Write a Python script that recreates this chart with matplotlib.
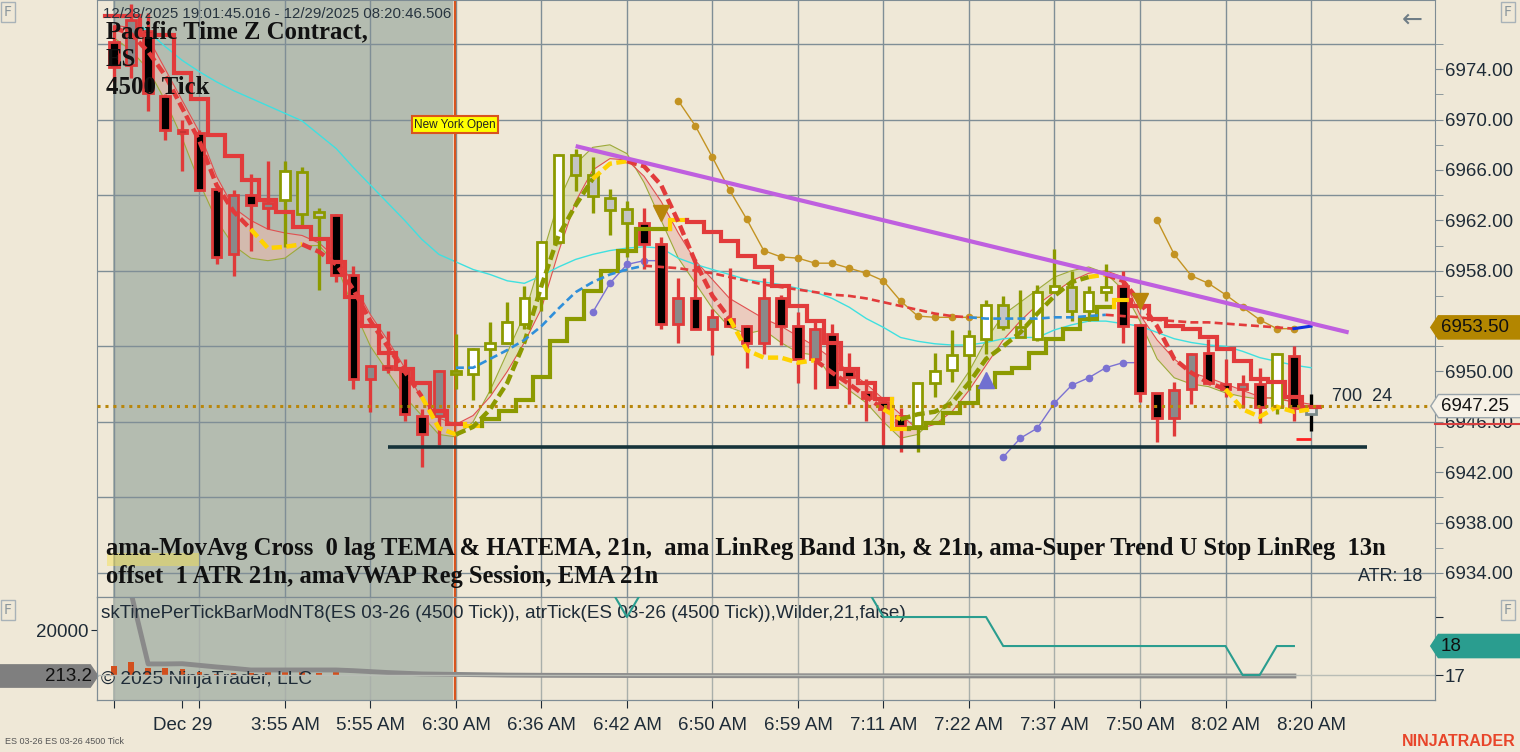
import numpy as np
import matplotlib
matplotlib.use('Agg')
import matplotlib.pyplot as plt
from matplotlib.transforms import blended_transform_factory
from matplotlib.patches import Rectangle, Polygon

# ---------------- data (4500 tick bars, ES 03-26) ----------------
opens = [6976.2, 6974.3, 6977.0, 6971.9, 6969.2, 6968.9, 6964.5, 6959.3, 6964.0, 6963.0,
         6963.6, 6965.85, 6962.7, 6962.4, 6957.7, 6949.4, 6950.4, 6950.0, 6946.5, 6946.5,
         6950.0, 6949.8, 6951.8, 6952.3, 6953.8, 6955.8, 6960.3, 6967.2, 6965.6, 6963.8,
         6962.9, 6961.8, 6960.1, 6953.8, 6955.8, 6953.4, 6954.2, 6953.6, 6952.3, 6955.8,
         6953.6, 6951.0, 6953.0, 6950.0, 6948.4, 6947.6, 6946.5, 6945.7, 6949.1, 6950.1,
         6951.3, 6952.6, 6955.3, 6953.5, 6952.6, 6956.3, 6956.7, 6954.8, 6956.3, 6956.8,
         6953.7, 6948.3, 6946.3, 6948.6, 6951.5, 6949.0, 6948.6, 6949.0, 6947.2, 6951.2,
         6946.6]
highs = [6977.5, 6979.2, 6978.5, 6972.0, 6970.0, 6969.2, 6964.5, 6964.4, 6965.7, 6966.7,
         6966.7, 6966.2, 6963.0, 6962.5, 6958.4, 6950.5, 6953.2, 6951.0, 6947.0, 6950.1,
         6953.0, 6951.9, 6953.9, 6955.5, 6956.8, 6960.4, 6967.3, 6967.7, 6967.0, 6964.5,
         6963.5, 6963.0, 6960.7, 6957.4, 6958.9, 6955.0, 6958.2, 6953.7, 6957.4, 6956.1,
         6954.7, 6954.2, 6953.8, 6951.5, 6949.4, 6948.0, 6947.1, 6949.2, 6951.5, 6953.3,
         6953.3, 6955.7, 6956.0, 6956.5, 6956.9, 6959.7, 6958.0, 6956.8, 6958.5, 6958.0,
         6953.8, 6948.3, 6949.2, 6951.5, 6952.6, 6951.0, 6949.7, 6950.3, 6951.5, 6952.0,
         6948.2]
lows = [6973.0, 6973.3, 6970.7, 6968.4, 6965.9, 6964.3, 6958.5, 6957.6, 6959.6, 6961.3,
        6959.9, 6961.6, 6956.5, 6957.1, 6948.6, 6946.8, 6949.9, 6946.1, 6942.4, 6944.2,
        6948.6, 6947.7, 6948.3, 6952.2, 6953.4, 6954.8, 6960.1, 6964.3, 6962.6, 6960.8,
        6959.1, 6958.1, 6953.4, 6952.3, 6953.4, 6951.3, 6953.6, 6950.3, 6951.4, 6952.1,
        6949.1, 6948.6, 6948.8, 6947.4, 6946.1, 6944.1, 6943.6, 6943.6, 6948.0, 6949.2,
        6948.5, 6951.4, 6953.3, 6952.7, 6952.4, 6956.3, 6954.0, 6954.0, 6955.6, 6952.3,
        6947.6, 6944.4, 6944.9, 6947.4, 6949.1, 6948.0, 6947.1, 6945.9, 6946.6, 6946.1,
        6945.3]
closes = [6974.2, 6977.9, 6972.1, 6969.2, 6968.9, 6964.4, 6959.1, 6964.0, 6963.2, 6963.4,
          6965.9, 6962.5, 6962.3, 6957.7, 6949.4, 6950.4, 6950.2, 6946.6, 6945.0, 6950.0,
          6949.8, 6951.8, 6952.3, 6953.9, 6955.8, 6960.3, 6967.2, 6965.6, 6963.9, 6962.8,
          6961.8, 6960.1, 6953.8, 6955.8, 6953.4, 6954.3, 6953.6, 6952.3, 6955.8, 6953.6,
          6951.0, 6953.4, 6948.8, 6949.6, 6947.9, 6947.0, 6945.7, 6949.1, 6950.0, 6951.3,
          6952.8, 6955.3, 6953.5, 6952.7, 6956.3, 6956.8, 6954.8, 6956.3, 6956.7, 6953.6,
          6948.3, 6946.3, 6948.5, 6951.4, 6949.1, 6948.6, 6949.0, 6947.2, 6951.4, 6947.1,
          6947.25]


def expand(pairs):
    return [c for c, k in pairs for _ in range(k)]


# bar colouring by trend: r = down trend, g = up trend, n = live bar
bar_trend = expand([('r', 10), ('g', 3), ('r', 7), ('g', 11), ('r', 16), ('g', 12),
                    ('r', 9), ('g', 1), ('r', 1), ('n', 1)])

# ama-Super Trend U stop (stepped) and its state colour
stop = [6978.2, 6978.2, 6976.7, 6976.7, 6973.7, 6971.6, 6968.8, 6967.1, 6965.2, 6963.6,
        6962.7, 6961.5, 6960.5, 6958.7, 6955.9, 6953.6, 6951.5, 6950.2, 6949.1, 6946.9,
        6945.8, 6945.7, 6946.2, 6946.9, 6947.7, 6949.6, 6952.4, 6954.2, 6956.4, 6958.0,
        6959.6, 6961.3, 6961.3, 6962.0, 6961.9, 6961.1, 6960.4, 6959.2, 6958.3, 6956.8,
        6955.2, 6954.0, 6952.3, 6950.2, 6949.1, 6947.8, 6945.4, 6945.55, 6945.9, 6946.7,
        6947.5, 6948.8, 6949.9, 6950.3, 6951.5, 6952.6, 6953.4, 6954.2, 6955.1, 6955.7,
        6955.2, 6954.2, 6953.6, 6953.4, 6952.7, 6951.8, 6950.8, 6949.4, 6949.2, 6948.0,
        6947.2]
stop_state = expand([('r', 21), ('y', 1), ('g', 11), ('y', 1), ('r', 12), ('y', 1),
                     ('g', 12), ('y', 1), ('r', 11)])

# 0 lag TEMA (dashed, coloured by slope)
tema = [6977.3, 6976.8, 6975.4, 6973.5, 6970.9, 6968.3, 6964.8, 6962.7, 6961.3, 6959.8,
        6959.9, 6960.1, 6959.5, 6958.5, 6956.5, 6954.0, 6952.0, 6950.0, 6948.0, 6945.5,
        6945.0, 6945.6, 6947.0, 6949.1, 6952.3, 6956.8, 6960.8, 6963.2, 6965.3, 6966.5,
        6966.7, 6966.3, 6964.8, 6961.9, 6958.7, 6956.0, 6954.2, 6951.7, 6951.1, 6951.1,
        6950.7, 6950.9, 6949.9, 6949.0, 6948.0, 6947.0, 6946.2, 6946.6, 6946.8, 6947.5,
        6949.1, 6951.0, 6952.0, 6953.1, 6954.6, 6956.0, 6957.1, 6957.5, 6957.7, 6957.2,
        6955.5, 6953.6, 6951.0, 6949.9, 6949.1, 6948.6, 6947.0, 6946.4, 6947.2, 6946.8,
        6947.0]
tema_state = expand([('r', 9), ('y', 3), ('r', 7), ('y', 2), ('g', 8), ('y', 2), ('r', 6),
                     ('y', 5), ('r', 4), ('y', 1), ('g', 11), ('y', 1), ('r', 7), ('y', 5)])

# LinReg band edges (13n fast / 21n slow)
band_fast = [6976.5, 6975.5, 6974.0, 6971.5, 6968.5, 6965.0, 6962.0, 6960.0, 6959.0, 6958.8,
             6959.0, 6960.0, 6960.0, 6958.5, 6955.0, 6952.0, 6950.0, 6948.0, 6946.5, 6945.0,
             6944.8, 6946.0, 6948.5, 6951.5, 6954.5, 6959.0, 6963.5, 6966.5, 6967.8, 6968.0,
             6967.3, 6965.0, 6962.0, 6959.0, 6957.0, 6955.0, 6953.5, 6953.0, 6953.3, 6952.3,
             6951.5, 6951.3, 6949.5, 6948.5, 6947.5, 6946.0, 6944.7, 6945.0, 6946.3, 6948.0,
             6950.0, 6952.5, 6954.5, 6955.5, 6956.5, 6957.5, 6958.0, 6958.3, 6957.8, 6956.5,
             6954.0, 6951.0, 6949.5, 6949.0, 6948.8, 6948.3, 6948.0, 6947.8, 6948.0, 6947.5,
             6947.0]
band_slow = [6977.5, 6977.3, 6976.5, 6974.0, 6971.5, 6969.0, 6965.5, 6963.0, 6962.0, 6961.3,
             6961.0, 6960.8, 6960.2, 6959.0, 6957.0, 6954.5, 6952.5, 6950.3, 6947.8, 6946.3,
             6945.8, 6946.5, 6948.0, 6950.0, 6952.3, 6955.0, 6959.5, 6963.5, 6966.0, 6966.9,
             6966.8, 6965.5, 6963.5, 6961.0, 6958.8, 6957.3, 6955.8, 6955.0, 6954.2, 6953.6,
             6952.8, 6952.0, 6951.0, 6950.0, 6949.0, 6947.8, 6946.6, 6945.4, 6945.8, 6946.8,
             6948.5, 6950.5, 6952.5, 6954.0, 6955.3, 6956.3, 6957.2, 6957.8, 6958.0, 6957.5,
             6954.5, 6952.5, 6951.0, 6949.9, 6949.5, 6949.0, 6948.5, 6948.0, 6947.8, 6947.6,
             6947.4]

# EMA 21n (cyan)
ema21 = [np.nan, 6978.0, 6977.0, 6975.8, 6974.7, 6973.8, 6973.0, 6972.3, 6971.7, 6971.1,
         6970.5, 6969.9, 6968.8, 6967.7, 6966.2, 6964.8, 6963.4, 6962.0, 6960.5, 6959.3,
         6958.7, 6958.1, 6957.7, 6957.2, 6957.0, 6957.6, 6958.3, 6958.9, 6959.3, 6959.6,
         6959.8, 6959.9, 6959.8, 6959.0, 6958.5, 6958.1, 6957.7, 6957.3, 6957.1, 6956.9,
         6956.6, 6956.3, 6955.8, 6955.1, 6954.2, 6953.5, 6952.7, 6952.4, 6952.2, 6952.1,
         6952.1, 6952.3, 6952.6, 6952.7, 6952.7, 6953.3, 6953.7, 6954.0, 6954.0, 6953.8,
         6953.6, 6953.1, 6952.6, 6952.3, 6952.1, 6952.0, 6951.6, 6951.1, 6950.8, 6950.5,
         6950.3]

# amaVWAP regular session (starts at the New York open)
vwap_start = 20
vwap = [6950.3, 6950.3, 6951.0, 6951.7, 6952.5, 6953.6, 6955.0, 6956.3, 6957.1, 6957.7,
        6958.1, 6958.4, 6958.3, 6958.2, 6958.0, 6957.8, 6957.5, 6957.2, 6956.9, 6956.7,
        6956.5, 6956.3, 6956.1, 6956.0, 6955.8, 6955.5, 6955.2, 6954.9, 6954.6, 6954.4,
        6954.3, 6954.2, 6954.2, 6954.2, 6954.2, 6954.3, 6954.3, 6954.4, 6954.5, 6954.4,
        6954.3, 6954.1, 6954.0, 6953.9, 6953.9, 6953.8, 6953.7, 6953.6, 6953.5, 6953.4,
        6953.6]
vwap_state = expand([('r', 1), ('b', 11), ('r', 19), ('b', 8), ('r', 11), ('b', 1)])

# trailing dots (gold) and (slate blue)
gold_a_start, gold_a = 33, [6971.5, 6969.5, 6967.0, 6964.4, 6962.1, 6959.6, 6959.1, 6959.0,
                            6958.6, 6958.6, 6958.2, 6957.8, 6957.2, 6955.6, 6954.4, 6954.3,
                            6954.3, 6954.3, 6954.3]
gold_b_start, gold_b = 61, [6962.0, 6959.3, 6957.6, 6957.0, 6956.1, 6955.1, 6954.1, 6953.4, 6953.4]
blue_a_start, blue_a = 28, [6954.7, 6957.0, 6958.5, 6958.8, 6958.8]
blue_b_start, blue_b = 52, [6943.2, 6944.7, 6945.5, 6947.5, 6948.9, 6949.5, 6950.3, 6950.7, 6950.7]

# signal triangles
tri_down_x, tri_down_y = [32, 60], [6962.6, 6955.6]
tri_up_x, tri_up_y = [51], [6949.3]

# manual drawings
trend_x, trend_y = [27.0, 72.2], [6967.9, 6953.1]
support_x, support_y = [16.0, 73.3], 6944.0
last_price = 6947.25
stop_price = 6953.50
ny_open_bar = 19.95

# lower panel: time per tick (left scale), histogram, ATR tick (right scale)
time_per_tick = [90000, 36000, 5400, 5400, 5500, 4800, 4100, 3500, 2800, 2800,
                 2800, 2800, 2800, 2800, 2500, 2100, 1700, 1400, 1100, 1000,
                 900, 800, 700, 600, 560, 520, 500, 480, 460, 440,
                 420, 400, 390, 380, 370, 360, 350, 340, 330, 320,
                 310, 300, 295, 290, 285, 280, 275, 270, 265, 260,
                 255, 250, 245, 240, 238, 236, 234, 232, 230, 228,
                 226, 224, 222, 220, 219, 218, 217, 216, 215, 213.2]
tpt_hist = [4300, 6000, 3600, 3300, 2900, 1700, 700, 1200, 1400, 2900,
            2900, 1700, 1200, 1700, 400, 300, 300]
atr = [20, 20, 20, 20, 20, 20, 20, 20, 20, 20, 20, 20, 20, 20, 20, 20, 20, 20, 20, 20,
       20, 20, 20, 20, 20, 20, 20, 20, 20, 20, 19, 20, 20, 20, 20, 20, 20, 20, 20, 20,
       20, 20, 20, 20, 20, 19, 19, 19, 19, 19, 19, 19, 18, 18, 18, 18, 18, 18, 18, 18,
       18, 18, 18, 18, 18, 18, 17, 17, 18, 18]
atr_last = 18
tpt_last = 213.2

tick_bars = [0, 4, 5, 10, 15, 20, 25, 30, 35, 40, 45, 50, 55, 60, 65, 70]
tick_labels = ['', 'Dec 29', '', '3:55 AM', '5:55 AM', '6:30 AM', '6:36 AM', '6:42 AM',
               '6:50 AM', '6:59 AM', '7:11 AM', '7:22 AM', '7:37 AM', '7:50 AM',
               '8:02 AM', '8:20 AM']
grid_bars = list(range(0, 71, 5))

# ---------------- styling ----------------
BG = '#EFE8D7'
SHADE = '#B4BCB0'
GRID = '#7F8E96'
TXT = '#1E2B37'
RED = '#E23B3B'
OLIVE = '#8C9A00'
YEL = '#FFD200'
BLUE = '#2F8FDA'
SANS = ['Liberation Sans', 'DejaVu Sans']
SERIF = ['Liberation Serif', 'DejaVu Serif']
state_col = {'r': RED, 'g': OLIVE, 'y': YEL, 'b': BLUE}

W, H = 1520, 752
fig = plt.figure(figsize=(W / 100, H / 100), dpi=100)
fig.patch.set_facecolor(BG)


def fx(px):
    return px / W


def fy(py):
    return 1 - py / H


ax = fig.add_axes([fx(97), fy(597), fx(1435) - fx(97), fy(0) - fy(597)])
ax2 = fig.add_axes([fx(97), fy(700), fx(1435) - fx(97), fy(597) - fy(700)], sharex=ax)
ax2r = ax2.twinx()
for a in (ax, ax2):
    a.set_facecolor(BG)
    for s in a.spines.values():
        s.set_color('#7E8C94')
ax2r.patch.set_visible(False)
for s in ax2r.spines.values():
    s.set_color('#7E8C94')

n = len(closes)
bars = np.arange(n)
ax.set_xlim(-0.99, 77.25)
ax.set_ylim(6932.09, 6979.5)

# session shading + grid
for a in (ax, ax2):
    a.axvspan(-0.05, 19.85, color=SHADE, zorder=0, lw=0)
for g in grid_bars:
    ax.axvline(g, color=GRID, lw=1, zorder=0.5)
    ax2.axvline(g, color='#A9AFAA', lw=1, zorder=0.5)
for p in np.arange(6934, 6980, 6):
    ax.axhline(p, color=GRID, lw=1, zorder=0.5)

ax.axvline(ny_open_bar, color='#D9541E', lw=1.6, zorder=2)
ax2.axvline(ny_open_bar, color='#D9541E', lw=1.6, zorder=2)
ax.text(ny_open_bar, 6969.6, 'New York Open', ha='center', va='center', fontsize=8.5,
        family=SANS, color='#222222', zorder=8,
        bbox=dict(boxstyle='square,pad=0.2', fc='#FFFF00', ec='#D9541E', lw=1.5))


def color_runs(states):
    runs, start = [], 0
    for k in range(1, len(states) + 1):
        if k == len(states) or states[k] != states[start]:
            runs.append((states[start], start, k - 1))
            start = k
    return runs


# LinReg band
bf, bs = np.array(band_fast), np.array(band_slow)
ax.fill_between(bars, bf, bs, where=bf >= bs, interpolate=True, color='#DCDDB0', alpha=0.75, lw=0, zorder=1)
ax.fill_between(bars, bf, bs, where=bf < bs, interpolate=True, color='#E9B9AE', alpha=0.6, lw=0, zorder=1)
ax.plot(bars, bf, color='#9DAA3A', lw=0.8, zorder=1.5)
ax.plot(bars, bs, color='#E05050', lw=0.8, zorder=1.5)

# EMA 21
ax.plot(bars, ema21, color='#3FE0E0', lw=1.0, zorder=1.6)

# trailing dotted indicators
for start, vals, col in [(gold_a_start, gold_a, '#C39322'), (gold_b_start, gold_b, '#C39322'),
                         (blue_a_start, blue_a, '#7B72D2'), (blue_b_start, blue_b, '#7B72D2')]:
    xs = np.arange(start, start + len(vals))
    ax.plot(xs, vals, color=col, lw=1.0, marker='o', ms=4.5, zorder=2)

# candles
ob, hb, lb, cb = map(np.array, (opens, highs, lows, closes))
outline = {'r': '#E03A3A', 'g': '#8C9A00', 'n': '#7A8A8A'}
for i in range(n):
    t = bar_trend[i]
    up = cb[i] >= ob[i]
    if t == 'n':
        fill, wick = '#E6E6E6', '#000000'
    elif t == 'g':
        fill, wick = ('#FFFFFF' if up else '#C4C4C4'), outline[t]
    else:
        fill, wick = ('#8A8A8A' if up else '#000000'), outline[t]
    ax.vlines(i, lb[i], hb[i], color=wick, lw=2.4, zorder=3)
    body = max(abs(cb[i] - ob[i]), 0.18)
    ax.bar(i, body, bottom=min(ob[i], cb[i]), width=0.56, color=fill,
           edgecolor=outline[t], linewidth=2.0, zorder=3.2)

# super trend stop (stepped)
stop_a = np.array(stop)
for st, a0, b0 in color_runs(stop_state):
    xs, ys = [], []
    if a0 > 0:
        xs.append(a0 - 0.5)
        ys.append(stop_a[a0 - 1])
    for k in range(a0, b0 + 1):
        xs += [k - 0.5, k + 0.5]
        ys += [stop_a[k], stop_a[k]]
    ax.plot(xs, ys, color=state_col[st], lw=3.0, zorder=4, solid_joinstyle='miter')

# TEMA dashed
tema_a = np.array(tema)
for st, a0, b0 in color_runs(tema_state):
    idx = np.arange(max(a0 - 1, 0), b0 + 1)
    ax.plot(idx, tema_a[idx], color=state_col[st], lw=3.2, dashes=(2.3, 1.0), zorder=5)

# VWAP
vw = np.array(vwap)
vx = np.arange(vwap_start, vwap_start + len(vw))
for st, a0, b0 in color_runs(vwap_state):
    idx = np.arange(max(a0 - 1, 0), b0 + 1)
    if st == 'b' and a0 == len(vw) - 1:
        ax.plot(vx[idx], vw[idx], color='#1030E0', lw=2.2, zorder=5)
    else:
        ax.plot(vx[idx], vw[idx], color=state_col[st], lw=1.9, dashes=(3.0, 1.6), zorder=5)

# signals and drawings
ax.plot(tri_down_x, tri_down_y, 'v', color='#B8860B', ms=12, zorder=6)
ax.plot(tri_up_x, tri_up_y, '^', color='#7070D0', ms=12, zorder=6)
ax.plot(trend_x, trend_y, color='#BF5FDF', lw=3.0, zorder=6, solid_capstyle='butt')
ax.hlines(support_y, support_x[0], support_x[1], color='#16333A', lw=2.6, zorder=6)
ax.axhline(last_price, color='#B8860B', lw=2.2, ls=(0, (1, 1.6)), zorder=6)
ax.hlines(6944.6, 69.1, 70.0, color='#FF2020', lw=2, zorder=6)

ax.text(71.2, 6948.0, '700  24', fontsize=13, family=SANS, color=TXT, va='center', ha='left', zorder=8)
ax.text(76.5, 6933.7, 'ATR: 18', fontsize=13, family=SANS, color=TXT, va='center', ha='right', zorder=8)

# main y axis (right); the 6954 label sits under the stop marker, so it stays blank
price_ticks = np.arange(6934, 6975, 4)
ax.yaxis.tick_right()
ax.set_yticks(price_ticks)
ax.set_yticklabels(['' if abs(v - stop_price) < 1.5 else f'{v:.2f}' for v in price_ticks], family=SANS)
ax.set_yticks(np.arange(6936, 6979, 4), minor=True)
ax.tick_params(axis='y', which='major', length=6, pad=1, labelsize=13.5, colors=TXT)
ax.tick_params(axis='y', which='minor', length=6, color='#7E8C94')
ax.tick_params(axis='y', which='major', color='#7E8C94')
ax.tick_params(axis='x', bottom=False, labelbottom=False)


def badge(axis, y, text, fc, ec, half, side='right', tc='#111111'):
    """price marker box on an axis edge; half = half height in data units"""
    tr = blended_transform_factory(axis.transAxes, axis.transData)
    if side == 'right':
        pts = [(0.9968, y), (1.0025, y + half), (1.07, y + half), (1.07, y - half), (1.0025, y - half)]
        tx, ha = 1.0045, 'left'
    else:
        pts = [(0.0007, y), (-0.005, y + half), (-0.08, y + half), (-0.08, y - half), (-0.005, y - half)]
        tx, ha = -0.004, 'right'
    axis.add_patch(Polygon(pts, closed=True, transform=tr, fc=fc, ec=ec, lw=1, clip_on=False, zorder=20))
    axis.text(tx, y, text, transform=tr, ha=ha, va='center', fontsize=13.5, family=SANS,
              color=tc, zorder=21, clip_on=False)


badge(ax, stop_price, f'{stop_price:.2f}', '#B38600', '#B38600', 0.92)
badge(ax, last_price, f'{last_price:.2f}', '#F6F1E6', '#9AA5AB', 0.92)
tr_main = blended_transform_factory(ax.transAxes, ax.transData)
ax.plot([1.0, 1.07], [6945.85, 6945.85], color='#D84040', lw=1.5, transform=tr_main,
        clip_on=False, zorder=19)

# lower panel
ax2.set_ylim(-10110, 34195)
ax2r.set_ylim(16.14, 19.69)
ax2.bar(bars[:len(tpt_hist)], np.array(tpt_hist), bottom=tpt_last, width=0.33, color='#D2501E', zorder=2)
ax2.plot(bars[:len(time_per_tick)], time_per_tick, color='#8A8A8A', lw=3.5, zorder=3)
ax2r.axhline(17, color='#B9BDB6', lw=1, zorder=1)
ax2r.plot(bars[:len(atr)], atr, color='#2A9D8F', lw=1.5, zorder=4)
ax2.set_yticks([20000])
ax2.set_yticklabels(['20000'], family=SANS)
ax2.tick_params(axis='y', length=4, labelsize=13.5, colors=TXT, pad=2)
ax2r.set_yticks([17, 18, 19])
ax2r.set_yticklabels(['17', '', ''], family=SANS)
ax2r.tick_params(axis='y', length=6, labelsize=13.5, colors=TXT, pad=1)
ax2.set_xticks(tick_bars)
ax2.set_xticklabels(tick_labels, family=SANS)
ax2.tick_params(axis='x', length=6, labelsize=13.5, colors=TXT, pad=6)

badge(ax2r, atr_last, f'{atr_last}', '#2A9D8F', '#2A9D8F', 0.4)
badge(ax2, tpt_last, f'{tpt_last}', '#7F7F7F', '#7F7F7F', 4800, side='left')

ax2.text(0.003, 0.84, 'skTimePerTickBarModNT8(ES 03-26 (4500 Tick)), atrTick(ES 03-26 (4500 Tick)),Wilder,21,false)',
         transform=ax2.transAxes, fontsize=13.6, family=SANS, color=TXT, va='center', zorder=9)
ax2.text(0.003, 0.2, '\u00a9 2025 NinjaTrader, LLC', transform=ax2.transAxes, fontsize=13.8,
         family=SANS, color=TXT, va='center', zorder=9)

# header / footer texts
fig.text(fx(103), fy(14), '12/28/2025 19:01:45.016 - 12/29/2025 08:20:46.506', fontsize=10.8,
         family=SANS, color='#27343F', va='center')
for k, line in enumerate(['Pacific Time Z Contract,', 'ES', '4500 Tick']):
    fig.text(fx(106), fy(32 + 28 * k), line, fontsize=17.8, family=SERIF, weight='bold',
             color='#111111', va='center')
fig.patches.append(Rectangle((fx(107), fy(566)), fx(92), 13 / H, transform=fig.transFigure,
                             fc='#F5E04A', alpha=0.45, lw=0))
fig.text(fx(106), fy(548), 'ama-MovAvg Cross  0 lag TEMA & HATEMA, 21n,  ama LinReg Band 13n, & 21n, '
         'ama-Super Trend U Stop LinReg  13n', fontsize=17.7, family=SERIF, weight='bold',
         color='#111111', va='center')
fig.text(fx(106), fy(576), 'offset  1 ATR 21n, amaVWAP Reg Session, EMA 21n', fontsize=17.7,
         family=SERIF, weight='bold', color='#111111', va='center')

fig.text(fx(1412), fy(20), '\u2190', fontsize=18, family='DejaVu Sans', color='#6F7D86',
         ha='center', va='center')
for px, py in [(8, 12), (1508, 12), (8, 610), (1508, 610)]:
    fig.text(fx(px), fy(py), 'F', fontsize=10, family='DejaVu Sans', color='#8A969C', ha='center',
             va='center', bbox=dict(boxstyle='square,pad=0.2', fc='none', ec='#A8B2B8', lw=1))
fig.text(fx(5), fy(742), 'ES 03-26 ES 03-26 4500 Tick', fontsize=6.5, family=SANS, color='#555555',
         va='center')
fig.text(fx(1516), fy(742), 'NINJATRADER', fontsize=11.5, family=SANS, weight='bold',
         color='#E8452A', ha='right', va='center')

fig.savefig('out.png', dpi=100, facecolor=BG)
